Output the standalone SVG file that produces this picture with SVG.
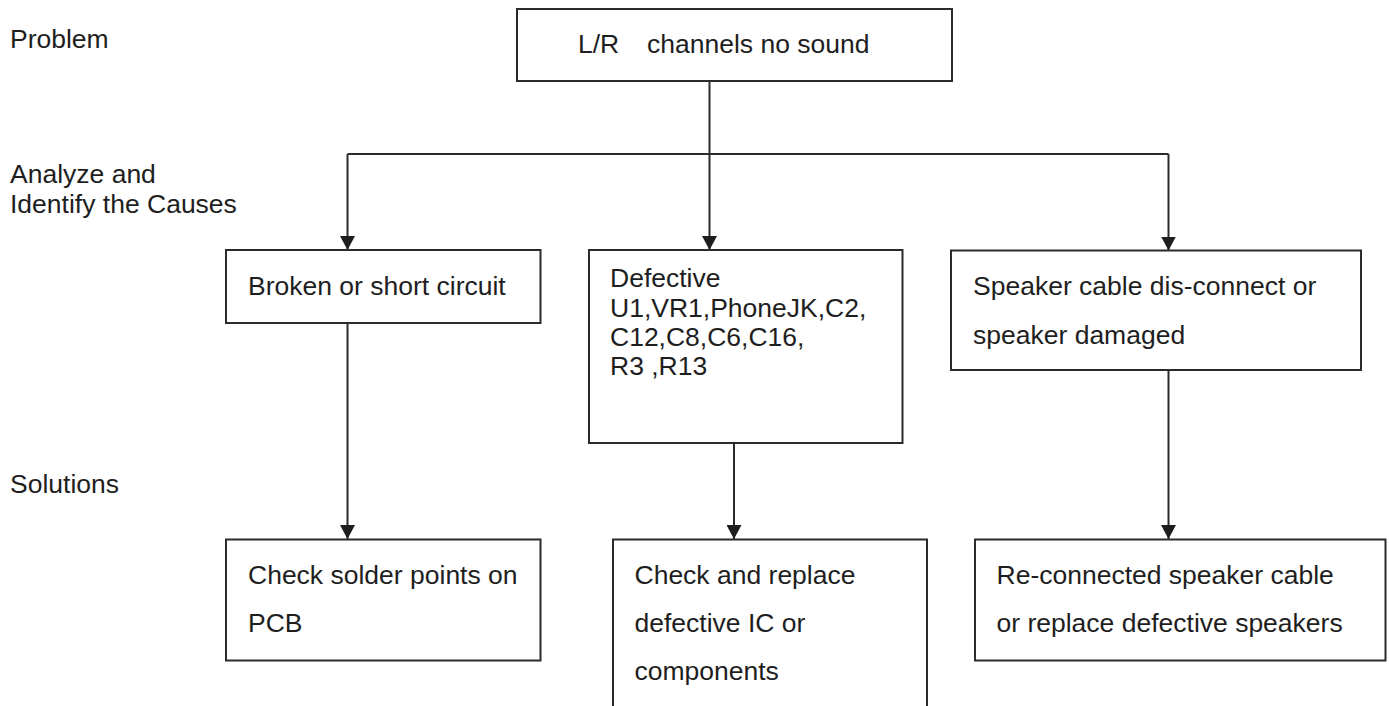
<svg xmlns="http://www.w3.org/2000/svg" width="1389" height="706" viewBox="0 0 1389 706">
<style>
  .box { fill: #ffffff; stroke: #2b2b2b; stroke-width: 2; }
  .lbl { font-family: "Liberation Sans", Arial, sans-serif; font-size: 26.5px; fill: #1e1e1e; }
  .conn { fill: none; stroke: #2b2b2b; stroke-width: 2; }
</style>
<defs>
  <marker id="arrow" viewBox="0 0 14 15" refX="14" refY="7.5" markerWidth="14" markerHeight="15" markerUnits="userSpaceOnUse" orient="auto">
    <path d="M0,0 L14,7.5 L0,15 Z" fill="#1e1e1e"/>
  </marker>
</defs>
<rect width="1389" height="706" fill="#ffffff"/>

<g id="stage-labels">
  <text class="lbl" x="10" y="48">Problem</text>
  <text class="lbl" x="10" y="183">Analyze and</text>
  <text class="lbl" x="10" y="213">Identify the Causes</text>
  <text class="lbl" x="10" y="493">Solutions</text>
</g>

<g id="connectors">
  <path class="conn" d="M709.5,81 L709.5,250" marker-end="url(#arrow)"/>
  <path class="conn" d="M347.5,154 L1168.5,154"/>
  <path class="conn" d="M347.5,154 L347.5,250" marker-end="url(#arrow)"/>
  <path class="conn" d="M1168.5,154 L1168.5,250.5" marker-end="url(#arrow)"/>
  <path class="conn" d="M347.5,323 L347.5,539" marker-end="url(#arrow)"/>
  <path class="conn" d="M734,443 L734,539" marker-end="url(#arrow)"/>
  <path class="conn" d="M1168.5,370 L1168.5,539" marker-end="url(#arrow)"/>
</g>

<g id="problem">
  <rect class="box" x="517" y="9" width="435" height="72"/>
  <text class="lbl" x="578" y="53">L/R</text>
  <text class="lbl" x="647" y="53">channels no sound</text>
</g>

<g id="cause-broken">
  <rect class="box" x="226" y="250" width="314.5" height="73"/>
  <text class="lbl" x="248" y="295">Broken or short circuit</text>
</g>

<g id="cause-defective">
  <rect class="box" x="589" y="250" width="313.5" height="193"/>
  <text class="lbl" x="610" y="286.5">Defective</text>
  <text class="lbl" x="610" y="316.5">U1,VR1,PhoneJK,C2,</text>
  <text class="lbl" x="610" y="345.5">C12,C8,C6,C16,</text>
  <text class="lbl" x="610" y="375">R3 ,R13</text>
</g>

<g id="cause-speaker">
  <rect class="box" x="951" y="250.5" width="410" height="119.5"/>
  <text class="lbl" x="973" y="295">Speaker cable dis-connect or</text>
  <text class="lbl" x="973" y="343.5">speaker damaged</text>
</g>

<g id="solution-solder">
  <rect class="box" x="226" y="539.5" width="314.5" height="121"/>
  <text class="lbl" x="248" y="583.5">Check solder points on</text>
  <text class="lbl" x="248" y="632">PCB</text>
</g>

<g id="solution-replace">
  <rect class="box" x="613" y="539.5" width="314" height="180"/>
  <text class="lbl" x="634.5" y="583.5">Check and replace</text>
  <text class="lbl" x="634.5" y="632">defective IC or</text>
  <text class="lbl" x="634.5" y="680">components</text>
</g>

<g id="solution-speaker">
  <rect class="box" x="975" y="539.5" width="410.5" height="121"/>
  <text class="lbl" x="996.5" y="583.5">Re-connected speaker cable</text>
  <text class="lbl" x="996.5" y="632">or replace defective speakers</text>
</g>
</svg>
